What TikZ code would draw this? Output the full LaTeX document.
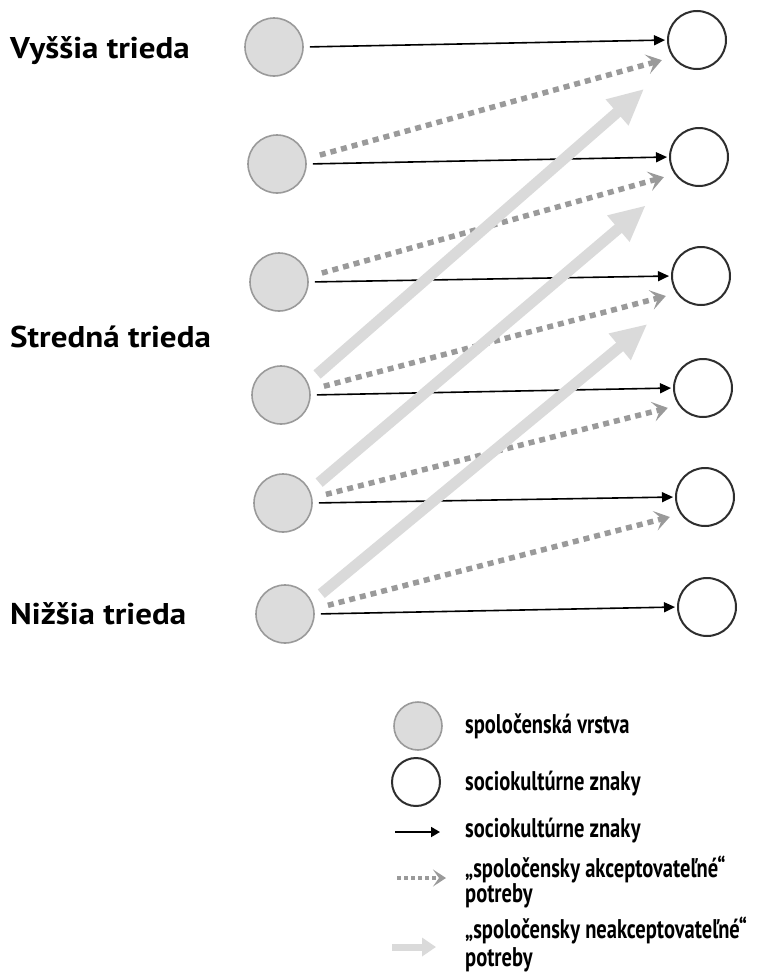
\documentclass[tikz,border=0pt]{standalone}
\usepackage{fontspec}
\setmainfont{PT Sans}
\newfontfamily\legfont[FakeStretch=0.76]{PT Sans}
\newfontfamily\clsfont[FakeStretch=1.1]{PT Sans}
\usetikzlibrary{arrows.meta}
\definecolor{layerfill}{HTML}{DCDCDC}
\definecolor{layerdraw}{HTML}{9A9A9A}
\definecolor{dotgray}{HTML}{9A9A9A}
\definecolor{lightarr}{HTML}{DADADA}
\definecolor{signdraw}{HTML}{2E2E2E}
\begin{document}
\begin{tikzpicture}[x=1pt,y=-1pt,
  layer/.style={circle, fill=layerfill, draw=layerdraw, line width=1.6pt, minimum size=58pt, inner sep=0pt},
  sign/.style={circle, fill=white, draw=signdraw, line width=2pt, minimum size=58pt, inner sep=0pt},
  blkarrow/.style={draw=black, line width=1.6pt, -{Triangle[length=11pt,width=10pt]}},
  dotarrow/.style={draw=dotgray, line width=5.5pt, dash pattern=on 6pt off 5pt, -{Stealth[length=15pt,width=20pt,inset=7pt]}},
  lightarrow/.style={draw=lightarr, line width=11pt, -{Triangle[length=36pt,width=32pt]}},
  classlabel/.style={font=\clsfont\fontsize{30}{34}\selectfont\bfseries, inner sep=0pt, anchor=base west},
  legtext/.style={font=\legfont\fontsize{27}{30}\selectfont\bfseries, inner sep=0pt, anchor=base west},
]
\useasboundingbox (0,0) rectangle (758,972);

% class labels
\node[classlabel] (lv) at (10,58) {Vyššia trieda};
\node[classlabel] (ls) at (10,347) {Stredná trieda};
\node[classlabel] (ln) at (10,624) {Nižšia trieda};

% left: social layers
\node[layer] (L1) at (274,47) {};
\node[layer] (L2) at (277,164) {};
\node[layer] (L3) at (279,282) {};
\node[layer] (L4) at (281,395) {};
\node[layer] (L5) at (283,503) {};
\node[layer] (L6) at (285,614) {};

% right: sociocultural signs
\node[sign] (R1) at (697,40) {};
\node[sign] (R2) at (699,157) {};
\node[sign] (R3) at (701,276) {};
\node[sign] (R4) at (703,388) {};
\node[sign] (R5) at (705,497) {};
\node[sign] (R6) at (707,607) {};

% black arrows
\foreach \i in {1,...,6}{
  \draw[blkarrow, shorten <=6pt, shorten >=2pt] (L\i.east) -- (R\i.west);
}
% dotted arrows
\foreach \i/\j in {2/1,3/2,4/3,5/4,6/5}{
  \draw[dotarrow, shorten <=14pt, shorten >=11pt] (L\i.10) -- (R\j.215);
}
% light arrows
\foreach \i/\j in {4/1,5/2,6/3}{
  \draw[lightarrow, shorten <=12pt, shorten >=42pt] (L\i.25) -- (R\j.225);
}

% legend
\node[layer, minimum size=48pt] (k1) at (418,726) {};
\node[sign, minimum size=48pt] (k2) at (416,782) {};
\coordinate (k3a) at (395,832); \coordinate (k3b) at (440,832);
\draw[draw=black, line width=1.8pt, -{Triangle[length=9pt,width=10pt]}] (k3a) -- (k3b);
\coordinate (k4a) at (397,878); \coordinate (k4b) at (446,878);
\draw[draw=dotgray, line width=3.5pt, dash pattern=on 4pt off 3pt, -{Stealth[length=13pt,width=17pt,inset=6pt]}] (k4a) -- (k4b);
\coordinate (k5a) at (392,947); \coordinate (k5b) at (436,947);
\draw[draw=lightarr, line width=7pt, -{Triangle[length=14pt,width=18pt]}] (k5a) -- (k5b);

\node[legtext] (t1) at (465,733) {spoločenská vrstva};
\node[legtext] (t2) at (465,790) {sociokultúrne znaky};
\node[legtext] (t3) at (465,837) {sociokultúrne znaky};
\node[legtext] (t4) at (465,877) {„spoločensky akceptovateľné“};
\node[legtext] (t5) at (465,902) {potreby};
\node[legtext] (t6) at (465,938) {„spoločensky neakceptovateľné“};
\node[legtext] (t7) at (465,966) {potreby};
\end{tikzpicture}
\end{document}
